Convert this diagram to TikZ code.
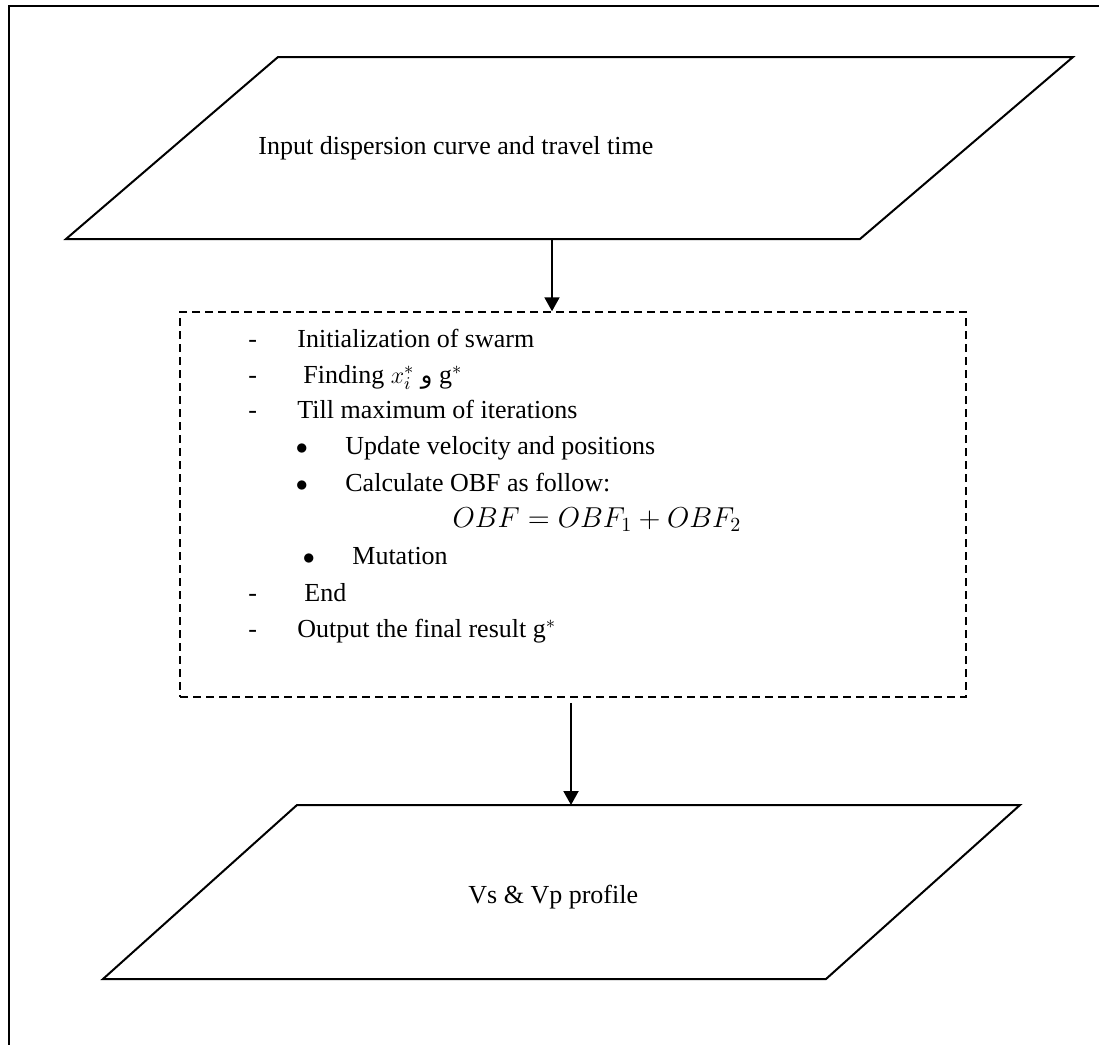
\documentclass[tikz,border=0pt]{standalone}
\usepackage{fontspec}
\setmainfont{Liberation Serif}
\newfontfamily\arabicfont[Script=Arabic]{DejaVu Sans}
\TeXXeTstate=1
\usetikzlibrary{arrows.meta}

\tikzset{
  flowline/.style={line width=1pt},
  flowarrow/.style={line width=1pt,-{Triangle[width=7.5pt,length=7pt]}},
  txt/.style={anchor=base west,inner sep=0pt,font=\fontsize{13}{16}\selectfont},
}

\begin{document}
\begin{tikzpicture}[x=0.5pt,y=-0.5pt]
\useasboundingbox (0,0) rectangle (1099,1045);
\clip (0,0) rectangle (1099,1045);
\draw[line width=1pt] (9,6) rectangle (1130,1080);
% input
\draw[flowline] (66,239) -- (278,57) -- (1073,57) -- (860,239) -- cycle;
\coordinate (inbot) at (552,239);
\node[txt] (input) at (258,154) {Input dispersion curve and travel time};
% pso
\node[draw,line width=0.75pt,dash pattern=on 4pt off 2.5pt,inner sep=0pt,
  minimum width=393pt,minimum height=192.5pt] (pso) at (573,504.5) {};
\node[txt] (d1) at (248,347) {-};
\node[txt] (l1) at (297,347) {Initialization of swarm};
\node[txt] (d2) at (248,383) {-};
\node[txt] (l2) at (303,383) {Finding $x_i^*$ {\arabicfont\fontsize{12}{14}\selectfont\beginR و\endR} g$^*$};
\node[txt] (d3) at (248,418) {-};
\node[txt] (l3) at (297,418) {Till maximum of iterations};
\node[txt] (b1) at (295.5,454) {$\bullet$};
\node[txt] (l4) at (345,454) {Update velocity and positions};
\node[txt] (b2) at (295.5,491) {$\bullet$};
\node[txt] (l5) at (345,491) {Calculate OBF as follow:};
\node[txt,anchor=base,font=\fontsize{14}{16}\selectfont] (eq) at (597,527) {$OBF = OBF_1 + OBF_2$};
\node[txt] (b3) at (302.5,564) {$\bullet$};
\node[txt] (l6) at (352,564) {Mutation};
\node[txt] (d4) at (248,601) {-};
\node[txt] (l7) at (304,601) {End};
\node[txt] (d5) at (248,637) {-};
\node[txt] (l8) at (297,637) {Output the final result g$^*$};
% output
\draw[flowline] (103,979) -- (297,805) -- (1020,805) -- (826,979) -- cycle;
\coordinate (outtop) at (571,805);
\node[txt] (output) at (468,903) {Vs \& Vp profile};
% arrows
\draw[flowarrow] (inbot) -- (inbot |- pso.north);
\draw[flowarrow,shorten <=2.5pt] (pso.south -| outtop) -- (outtop);
\end{tikzpicture}
\end{document}
